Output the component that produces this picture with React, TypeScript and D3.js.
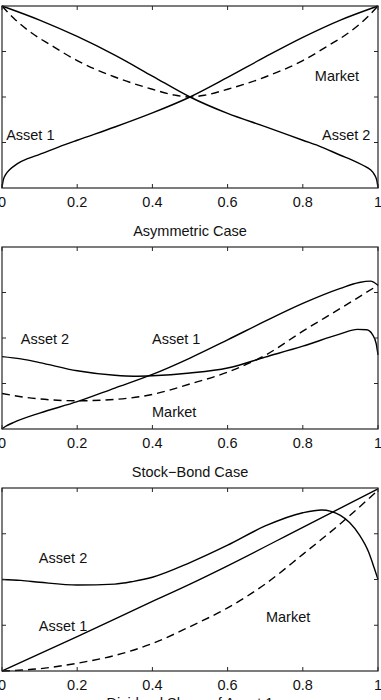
import React from "react";
import * as d3 from "d3";

// ---------- Data ----------
const xTicks = [0, 0.2, 0.4, 0.6, 0.8, 1];
const xTickLabels = ["0", "0.2", "0.4", "0.6", "0.8", "1"];
const yTicks = [1, 2, 3];

// Panel 1: Asymmetric Case
const p1Asset1X = [0, 0.003, 0.01, 0.02, 0.04, 0.07, 0.1, 0.15, 0.2, 0.3, 0.4, 0.5, 0.6, 0.7, 0.8, 0.9, 1.0];
const p1Asset1Y = [0, 0.16, 0.3, 0.4, 0.53, 0.65, 0.74, 0.9, 1.05, 1.34, 1.65, 2.0, 2.43, 2.88, 3.31, 3.69, 4.0];
const p1Asset2X = [0, 0.1, 0.2, 0.3, 0.4, 0.5, 0.6, 0.7, 0.8, 0.85, 0.9, 0.93, 0.96, 0.98, 0.99, 0.997, 1.0];
const p1Asset2Y = [4.0, 3.69, 3.33, 2.92, 2.46, 2.0, 1.64, 1.35, 1.05, 0.9, 0.72, 0.62, 0.5, 0.4, 0.3, 0.16, 0];
const p1MarketX = [0, 0.03, 0.08, 0.13, 0.2, 0.3, 0.4, 0.46, 0.5, 0.54, 0.6, 0.7, 0.8, 0.87, 0.92, 0.97, 1.0];
const p1MarketY = [4.0, 3.74, 3.4, 3.14, 2.8, 2.44, 2.17, 2.04, 2.0, 2.04, 2.17, 2.44, 2.8, 3.14, 3.4, 3.74, 4.0];

// Panel 2: Stock-Bond Case
const p2Asset1X = [0, 0.01, 0.03, 0.1, 0.2, 0.3, 0.4, 0.5, 0.6, 0.7, 0.8, 0.9, 0.95, 0.98, 1.0];
const p2Asset1Y = [0, 0.06, 0.14, 0.35, 0.6, 0.9, 1.2, 1.56, 1.96, 2.37, 2.76, 3.09, 3.22, 3.25, 3.16];
const p2Asset2X = [0, 0.05, 0.1, 0.2, 0.3, 0.35, 0.4, 0.5, 0.6, 0.7, 0.8, 0.9, 0.945, 0.97, 0.985, 0.995, 1.0];
const p2Asset2Y = [1.59, 1.54, 1.46, 1.28, 1.18, 1.16, 1.17, 1.23, 1.34, 1.58, 1.82, 2.09, 2.19, 2.18, 2.08, 1.88, 1.63];
const p2MarketX = [0, 0.05, 0.1, 0.2, 0.3, 0.4, 0.5, 0.6, 0.7, 0.8, 0.9, 1.0];
const p2MarketY = [0.78, 0.71, 0.66, 0.62, 0.65, 0.76, 0.99, 1.25, 1.62, 2.15, 2.65, 3.16];

// Panel 3: Dividend share
const p3Asset1X = [0, 0.2, 0.4, 0.5, 0.6, 0.8, 1.0];
const p3Asset1Y = [0, 0.75, 1.52, 1.9, 2.3, 3.14, 3.98];
const p3Asset2X = [0, 0.05, 0.1, 0.2, 0.3, 0.35, 0.4, 0.5, 0.6, 0.7, 0.8, 0.85, 0.875, 0.9, 0.925, 0.95, 0.975, 0.99, 1.0];
const p3Asset2Y = [2.0, 1.98, 1.94, 1.88, 1.9, 1.96, 2.05, 2.37, 2.75, 3.17, 3.46, 3.52, 3.49, 3.4, 3.24, 2.98, 2.6, 2.25, 2.0];
const p3MarketX = [0, 0.1, 0.2, 0.3, 0.4, 0.5, 0.6, 0.7, 0.8, 0.9, 1.0];
const p3MarketY = [0, 0.05, 0.17, 0.34, 0.6, 0.97, 1.38, 1.9, 2.55, 3.22, 3.95];

const titles = ["Asymmetric Case", "Stock\u2212Bond Case", "Dividend Share of Asset 1"];

// ---------- Layout ----------
const W = 381;
const H = 700;
const X0 = 2;
const X1 = 378;
const panels = [
  {
    top: 6, bottom: 188, tickBase: 207, titleBase: 235.5,
    series: [
      { x: p1Asset1X, y: p1Asset1Y, dashed: false },
      { x: p1Asset2X, y: p1Asset2Y, dashed: false },
      { x: p1MarketX, y: p1MarketY, dashed: true },
    ],
    labels: [
      { t: "Asset 1", x: 0.011, y: 1.05 },
      { t: "Asset 2", x: 0.851, y: 1.05 },
      { t: "Market", x: 0.832, y: 2.35 },
    ],
  },
  {
    top: 247, bottom: 429, tickBase: 448, titleBase: 477,
    series: [
      { x: p2Asset1X, y: p2Asset1Y, dashed: false },
      { x: p2Asset2X, y: p2Asset2Y, dashed: false },
      { x: p2MarketX, y: p2MarketY, dashed: true },
    ],
    labels: [
      { t: "Asset 2", x: 0.05, y: 1.87 },
      { t: "Asset 1", x: 0.399, y: 1.87 },
      { t: "Market", x: 0.399, y: 0.26 },
    ],
  },
  {
    top: 488, bottom: 671, tickBase: 690, titleBase: 707.5,
    series: [
      { x: p3Asset1X, y: p3Asset1Y, dashed: false },
      { x: p3Asset2X, y: p3Asset2Y, dashed: false },
      { x: p3MarketX, y: p3MarketY, dashed: true },
    ],
    labels: [
      { t: "Asset 2", x: 0.098, y: 2.36 },
      { t: "Asset 1", x: 0.098, y: 0.87 },
      { t: "Market", x: 0.702, y: 1.07 },
    ],
  },
];

const FONT = "'Liberation Sans', Arial, Helvetica, sans-serif";
const FS = 14.5;
const TICK = 4;

function Panel({ p, title }: { p: any; title: string }) {
  const x = d3.scaleLinear().domain([0, 1]).range([X0, X1]);
  const y = d3.scaleLinear().domain([0, 4]).range([p.bottom, p.top]);
  return (
    <g>
      {p.series.map((s: any, i: number) => {
        const pts: [number, number][] = s.x.map((v: number, k: number) => [v, s.y[k]]);
        const line = d3
          .line<[number, number]>()
          .x((d) => x(d[0]))
          .y((d) => y(d[1]))
          .curve(d3.curveMonotoneX);
        return (
          <path
            key={i}
            d={line(pts) || ""}
            fill="none"
            stroke="#000"
            strokeWidth={1.4}
            strokeDasharray={s.dashed ? "8,5" : undefined}
          />
        );
      })}
      <rect
        x={X0}
        y={p.top}
        width={X1 - X0}
        height={p.bottom - p.top}
        fill="none"
        stroke="#262626"
        strokeWidth={1.2}
      />
      {xTicks.map((t, i) => (
        <g key={"xt" + i}>
          <line x1={x(t)} x2={x(t)} y1={p.bottom} y2={p.bottom - TICK} stroke="#262626" />
          <line x1={x(t)} x2={x(t)} y1={p.top} y2={p.top + TICK} stroke="#262626" />
          <text
            x={x(t)}
            y={p.tickBase}
            textAnchor="middle"
            fontFamily={FONT}
            fontSize={FS}
            fill="#111"
          >
            {xTickLabels[i]}
          </text>
        </g>
      ))}
      {yTicks.map((t, i) => (
        <g key={"yt" + i}>
          <line x1={X0} x2={X0 + TICK} y1={y(t)} y2={y(t)} stroke="#262626" />
          <line x1={X1} x2={X1 - TICK} y1={y(t)} y2={y(t)} stroke="#262626" />
        </g>
      ))}
      {p.labels.map((l: any, i: number) => (
        <text key={"l" + i} x={x(l.x)} y={y(l.y)} fontFamily={FONT} fontSize={FS} fill="#111">
          {l.t}
        </text>
      ))}
      <text
        x={(X0 + X1) / 2}
        y={p.titleBase}
        textAnchor="middle"
        fontFamily={FONT}
        fontSize={FS}
        fill="#111"
      >
        {title}
      </text>
    </g>
  );
}

export default function App() {
  return (
    <div style={{ position: "absolute", left: 0, top: 0, width: W, height: H, overflow: "hidden", background: "#fff" }}>
      <svg width={W} height={H} style={{ display: "block" }}>
        <rect x={0} y={0} width={W} height={H} fill="#fff" />
        {panels.map((p, i) => (
          <Panel key={i} p={p} title={titles[i]} />
        ))}
      </svg>
    </div>
  );
}
